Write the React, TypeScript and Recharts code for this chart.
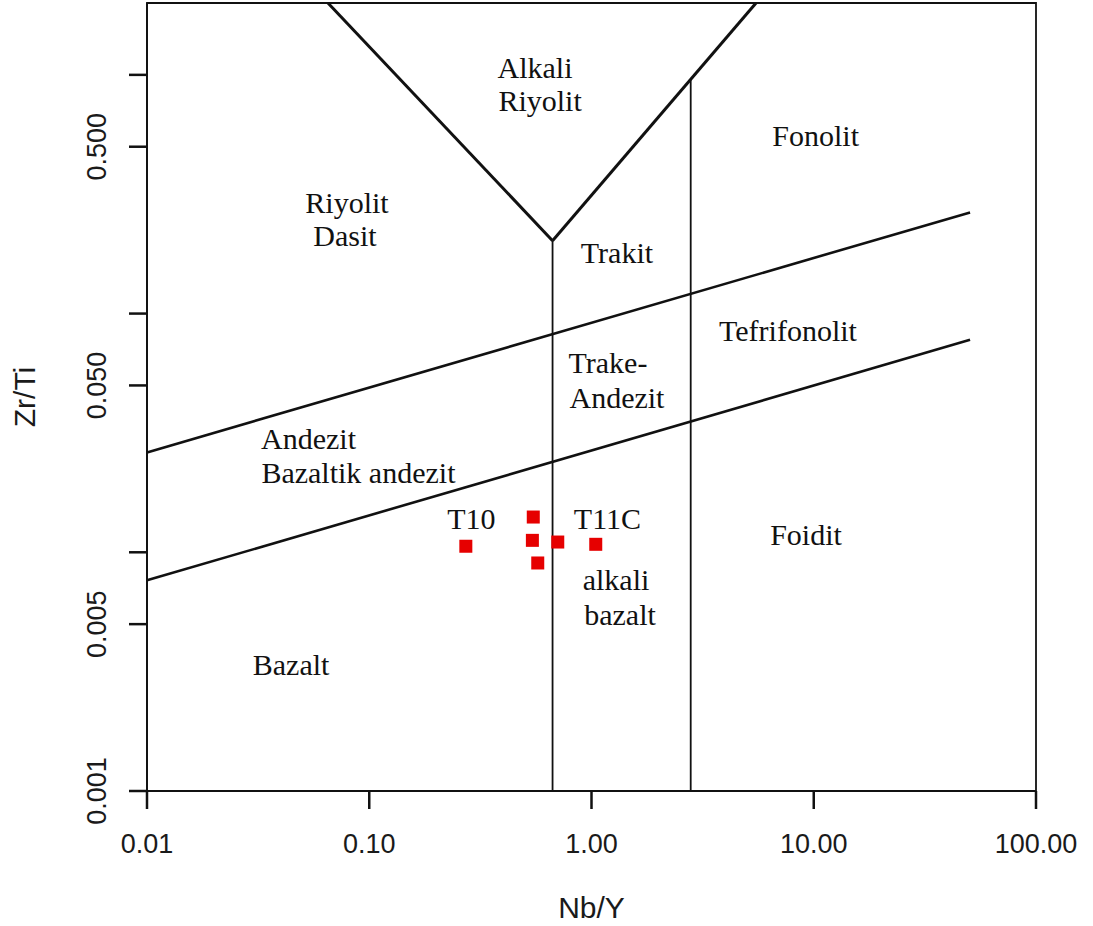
import { ScatterChart, Scatter, XAxis, YAxis, ReferenceLine, ReferenceArea } from 'recharts';

const xTicks = [0.01, 0.1, 1, 10, 100];
const xTickLabels = ['0.01', '0.10', '1.00', '10.00', '100.00'];
const yTicks = [0.001, 0.005, 0.01, 0.05, 0.1, 0.5, 1];
const yTickLabels = ['0.001', '0.005', '', '0.050', '', '0.500', ''];

// samples: Nb/Y vs Zr/Ti
const sampleNbY = [0.272, 0.547, 0.542, 0.705, 0.573, 1.045];
const sampleZrTi = [0.0106, 0.01405, 0.01122, 0.01104, 0.00902, 0.0108];

// field boundaries as [x1, y1, x2, y2]
const vLeftArm = [0.0652, 2, 0.668, 0.202];
const vRightArm = [0.668, 0.202, 5.5, 2];
const upperBoundary = [0.01, 0.0262, 50.5, 0.2654];
const lowerBoundary = [0.01, 0.00763, 50.5, 0.0776];
const alkaliDivide = [0.668, 0.202, 0.668, 0.001];
const foiditDivide = [2.795, 0.96, 2.795, 0.001];

// field names, text baseline centre
const fieldNames = ['Alkali', 'Riyolit', 'Fonolit', 'Riyolit', 'Dasit', 'Trakit', 'Tefrifonolit', 'Trake-', 'Andezit',
  'Andezit', 'Bazaltik andezit', 'T10', 'T11C', 'Foidit', 'alkali', 'bazalt', 'Bazalt'];
const fieldNbY = [0.557, 0.587, 10.2, 0.0794, 0.0778, 1.302, 7.66, 1.186, 1.302,
  0.0533, 0.0894, 0.288, 1.18, 9.23, 1.289, 1.344, 0.0445];
const fieldZrTi = [0.971, 0.707, 0.5045, 0.2646, 0.1926, 0.1634, 0.0771, 0.0566, 0.0404,
  0.0272, 0.01944, 0.01248, 0.01248, 0.0107, 0.00693, 0.00495, 0.00306];

const samples = sampleNbY.map((x, i) => ({ x, y: sampleZrTi[i] }));
const fieldLabels = fieldNames.map((text, i) => ({ x: fieldNbY[i], y: fieldZrTi[i], text }));

const seg = (s: number[]) => [{ x: s[0], y: s[1] }, { x: s[2], y: s[3] }];

const SANS = '"Liberation Sans", Arial, sans-serif';
const SERIF = '"Liberation Serif", "Times New Roman", serif';

function XTick({ x, y, payload }: any) {
  const label = xTickLabels[xTicks.indexOf(payload.value)];
  return (
    <text x={x} y={y + 44} textAnchor="middle" fontSize={27} fontFamily={SANS} fill="#1a1a1a">{label}</text>
  );
}

function YTick({ x, y, payload }: any) {
  const label = yTickLabels[yTicks.indexOf(payload.value)];
  if (!label) return null;
  return (
    <text transform={`translate(${x - 23},${y}) rotate(-90)`} textAnchor="middle" fontSize={27}
      fontFamily={SANS} fill="#1a1a1a">{label}</text>
  );
}

function Square({ cx, cy }: any) {
  return <rect x={cx - 6.5} y={cy - 6.5} width={13} height={13} fill="#e60000" />;
}

function FieldText({ cx, cy, payload }: any) {
  return (
    <text x={cx} y={cy} textAnchor="middle" fontSize={30} fontFamily={SERIF} fill="#111">{payload.text}</text>
  );
}

export default function App() {
  return (
    <div style={{ position: 'absolute', left: 0, top: 0, background: '#fff' }}>
      <ScatterChart width={1093} height={926} margin={{ top: 3, right: 57, bottom: 0, left: 0 }}>
        <XAxis
          type="number" dataKey="x" scale="log" domain={[0.01, 100]} allowDataOverflow
          ticks={xTicks} tick={<XTick />} tickSize={18} tickMargin={0} height={135}
          axisLine={{ stroke: '#111', strokeWidth: 1.8 }} tickLine={{ stroke: '#111', strokeWidth: 2.5 }}
          label={{
            content: ({ viewBox }: any) => (
              <text x={viewBox.x + viewBox.width / 2} y={viewBox.y + 127} textAnchor="middle"
                fontSize={30} fontFamily={SANS} fill="#1a1a1a">Nb/Y</text>
            ),
          }}
        />
        <YAxis
          type="number" dataKey="y" scale="log" domain={[0.001, 2]} allowDataOverflow
          ticks={yTicks} tick={<YTick />} tickSize={18} tickMargin={0} width={147}
          axisLine={{ stroke: '#111', strokeWidth: 1.8 }} tickLine={{ stroke: '#111', strokeWidth: 2.5 }}
          label={{
            content: ({ viewBox }: any) => (
              <text transform={`translate(35,${viewBox.y + viewBox.height / 2}) rotate(-90)`} textAnchor="middle"
                fontSize={30} fontFamily={SANS} fill="#1a1a1a">Zr/Ti</text>
            ),
          }}
        />
        <ReferenceArea x1={0.01} x2={100} y1={0.001} y2={2} fill="none" stroke="#111" strokeWidth={1.8} />
        <ReferenceLine segment={seg(vLeftArm)} stroke="#111" strokeWidth={3} />
        <ReferenceLine segment={seg(vRightArm)} stroke="#111" strokeWidth={3} />
        <ReferenceLine segment={seg(upperBoundary)} stroke="#111" strokeWidth={2.6} />
        <ReferenceLine segment={seg(lowerBoundary)} stroke="#111" strokeWidth={2.6} />
        <ReferenceLine segment={seg(alkaliDivide)} stroke="#111" strokeWidth={1.8} />
        <ReferenceLine segment={seg(foiditDivide)} stroke="#111" strokeWidth={1.8} />
        <Scatter data={fieldLabels} shape={<FieldText />} isAnimationActive={false} />
        <Scatter data={samples} shape={<Square />} isAnimationActive={false} />
      </ScatterChart>
    </div>
  );
}
